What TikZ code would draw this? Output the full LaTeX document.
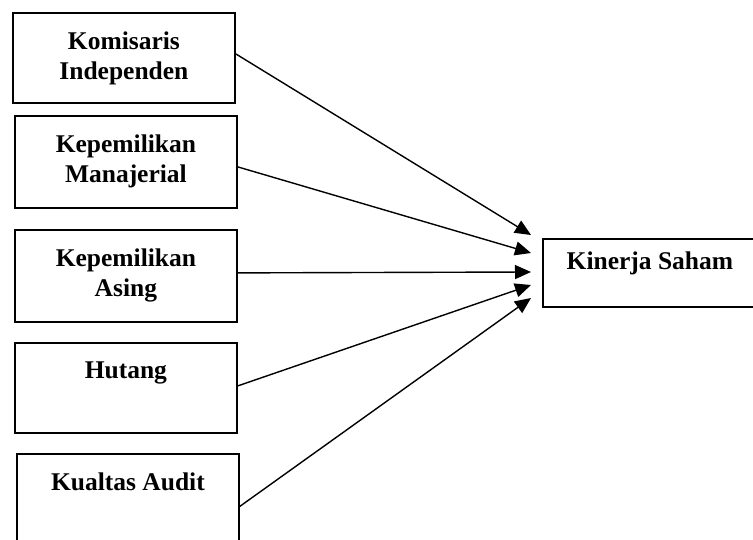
\documentclass[tikz,border=0pt]{standalone}
\usepackage{fontspec}
\setmainfont{Liberation Serif}
\usetikzlibrary{calc,arrows.meta}
\tikzset{
  varbox/.style={draw,line width=1.8pt,minimum width=222pt,anchor=north west,inner sep=0pt},
  vartext/.style={anchor=north,align=center,inner sep=0pt,font=\bfseries\fontsize{25.5}{30}\selectfont},
}
\newcommand{\drawVar}[6]{% name, top left x,y, height, text, text drop
  \node[varbox,minimum height=#4pt] (#1) at (#2,#3) {};
  \node[vartext] (#1-txt) at ($(#1.north)+(0,#6)$) {#5};
}

\begin{document}
\begin{tikzpicture}[x=1pt,y=-1pt,line width=1.4pt,>={Triangle[length=16pt,width=14pt]}]
\useasboundingbox (0,0) rectangle (753,540);
\clip (0,0) rectangle (753,540);

% Independent variables
\drawVar{komisaris}{12}{12}{90}{Komisaris\\Independen}{19}
\drawVar{manajerial}{14}{115}{92}{Kepemilikan\\Manajerial}{19}
\drawVar{asing}{14}{229}{92}{Kepemilikan\\Asing}{19}
\drawVar{hutang}{14}{342}{90}{Hutang}{19}
\drawVar{audit}{16}{453}{95}{Kualtas Audit}{19}

% Dependent variable
\node[draw,line width=1.8pt,anchor=north west,minimum width=220pt,minimum height=68pt] (kinerja) at (542,238) {};
\node[vartext] (kinerja-txt) at ($(kinerja.north)+(-3,13)$) {Kinerja Saham};

% Arrow tips
\coordinate (in1) at (531,235);
\coordinate (in2) at (531,253);
\coordinate (in3) at (531,272);
\coordinate (in4) at (531,285);
\coordinate (in5) at (531,298);

\draw[->] ($(komisaris.east)+(0,-4)$) -- (in1);
\draw[->] ($(manajerial.east)+(0,5)$) -- (in2);
\draw[->] ($(asing.east)+(0,-3)$) -- (in3);
\draw[->] ($(hutang.east)+(0,-2)$) -- (in4);
\draw[->] ($(audit.east)+(0,5)$) -- (in5);
\end{tikzpicture}
\end{document}
